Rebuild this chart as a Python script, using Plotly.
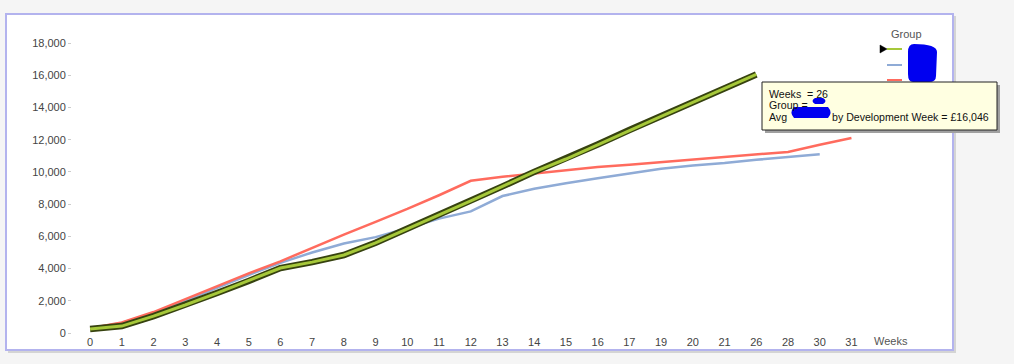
import plotly.graph_objects as go

weeks = ["0", "1", "2", "3", "4", "5", "6", "7", "8", "9", "10", "11", "12", "13",
         "14", "15", "16", "17", "19", "20", "21", "26", "28", "30", "31"]

green_vals = [250, 430, 1050, 1740, 2480, 3230, 4030, 4400, 4840, 5600, 6450, 7350,
              8200, 9100, 10000, 10800, 11700, 12600, 13450, 14320, 15200, 16046]
blue_vals = [300, 620, 1250, 2000, 2800, 3600, 4350, 5000, 5550, 5950, 6500, 7100,
             7550, 8500, 8950, 9300, 9600, 9900, 10200, 10400, 10550, 10750, 10930, 11100]
red_vals = [300, 650, 1300, 2100, 2900, 3700, 4450, 5290, 6100, 6900, 7700, 8550,
            9450, 9700, 9900, 10100, 10300, 10450, 10600, 10750, 10900, 11050, 11240,
            11680, 12100]

y_ticks = [0, 2000, 4000, 6000, 8000, 10000, 12000, 14000, 16000, 18000]

W, H = 1014, 364
L, R, T, B = 72, 880, 30, 334


def px(x):
    return (x - L) / (R - L)


def py(y):
    return (B - y) / (B - T)


FONT = "Liberation Sans, Arial, sans-serif"

fig = go.Figure()
fig.add_trace(go.Scatter(x=weeks[:len(blue_vals)], y=blue_vals, mode="lines",
                         line=dict(color="#8fabd6", width=2.5), name="Group B",
                         showlegend=False))
fig.add_trace(go.Scatter(x=weeks[:len(red_vals)], y=red_vals, mode="lines",
                         line=dict(color="#ff6b5e", width=2.5), name="Group C",
                         showlegend=False))
fig.add_trace(go.Scatter(x=weeks[:len(green_vals)], y=green_vals, mode="lines",
                         line=dict(color="#36420f", width=6.5), name="Group A outline",
                         showlegend=False, hoverinfo="skip"))
fig.add_trace(go.Scatter(x=weeks[:len(green_vals)], y=green_vals, mode="lines",
                         line=dict(color="#a6c83a", width=3), name="Group A",
                         showlegend=False))

BLUE = "#0000f0"
shapes = []
# panel shadow and panel
shapes.append(dict(type="rect", xref="paper", yref="paper", layer="below",
                   x0=px(8), x1=px(956), y0=py(16), y1=py(353),
                   fillcolor="#d4d4d4", line=dict(width=0)))
shapes.append(dict(type="rect", xref="paper", yref="paper", layer="below",
                   x0=px(6), x1=px(953), y0=py(14), y1=py(350),
                   fillcolor="white", line=dict(color="#b3b3ee", width=2)))
# manual legend lines
for yy, col in [(49, "#a6c83a"), (65, "#8fabd6"), (80, "#ff6b5e")]:
    shapes.append(dict(type="line", xref="paper", yref="paper", layer="above",
                       x0=px(887), x1=px(902), y0=py(yy), y1=py(yy),
                       line=dict(color=col, width=2)))
# selection arrow
shapes.append(dict(type="path", xref="paper", yref="paper", layer="above",
                   path="M {} {} L {} {} L {} {} Z".format(px(880), py(45), px(887), py(49), px(880), py(53)),
                   fillcolor="black", line=dict(color="black", width=0.5)))
# redaction blob in legend
bx0, bx1, by0, by1 = 908, 937, 44, 82
shapes.append(dict(type="path", xref="paper", yref="paper", layer="above",
                   path=("M {a} {b} Q {c} {d} {e} {f} L {g} {h} Q {i} {j} {k} {l} "
                         "L {m} {n} Q {o} {p} {q} {r} L {s} {t} Q {u} {v} {a} {b} Z").format(
                       a=px(bx0 + 6), b=py(by0),
                       c=px(bx1), d=py(by0), e=px(bx1), f=py(by0 + 8),
                       g=px(bx1 - 1), h=py(by1 - 6),
                       i=px(bx1 - 1), j=py(by1), k=px(bx1 - 8), l=py(by1),
                       m=px(bx0 + 5), n=py(by1),
                       o=px(bx0), p=py(by1), q=px(bx0), r=py(by1 - 8),
                       s=px(bx0), t=py(by0 + 8),
                       u=px(bx0), v=py(by0)),
                   fillcolor=BLUE, line=dict(width=0)))
# tooltip shadow and box
shapes.append(dict(type="rect", xref="paper", yref="paper", layer="above",
                   x0=px(765), x1=px(1000), y0=py(85), y1=py(133),
                   fillcolor="#a0a0a0", line=dict(width=0)))
shapes.append(dict(type="rect", xref="paper", yref="paper", layer="above",
                   x0=px(762), x1=px(997), y0=py(82), y1=py(130),
                   fillcolor="#ffffe1", line=dict(color="#222", width=1)))
# redaction blobs in tooltip
for x0, x1, y0, y1 in [(811, 827, 98, 104), (790, 832, 107, 118)]:
    shapes.append(dict(type="path", xref="paper", yref="paper", layer="above",
                       path="M {} {} L {} {} Q {} {} {} {} L {} {} Q {} {} {} {} Z".format(
                           px(x0 + 4), py(y0), px(x1 - 4), py(y0),
                           px(x1 + 1), py((y0 + y1) / 2), px(x1 - 4), py(y1),
                           px(x0 + 4), py(y1),
                           px(x0 - 1), py((y0 + y1) / 2), px(x0 + 4), py(y0)),
                       fillcolor=BLUE, line=dict(width=0)))

TT = dict(family=FONT, size=10.6, color="#111")
annotations = [
    dict(text="Group", x=px(906), y=py(34), xref="paper", yref="paper",
         xanchor="center", yanchor="middle",
         showarrow=False, font=dict(family=FONT, size=11, color="#555")),
    dict(text="Weeks", x=px(891), y=py(341), xref="paper", yref="paper",
         xanchor="center", yanchor="middle",
         showarrow=False, font=dict(family=FONT, size=11, color="#555")),
    dict(text="Weeks  = 26", x=px(767), y=py(94), xref="paper", yref="paper",
         xanchor="left", yanchor="middle", showarrow=False, font=TT),
    dict(text="Group =", x=px(767), y=py(105.5), xref="paper", yref="paper",
         xanchor="left", yanchor="middle", showarrow=False, font=TT),
    dict(text="Avg", x=px(767), y=py(117), xref="paper", yref="paper",
         xanchor="left", yanchor="middle", showarrow=False, font=TT),
    dict(text="by Development Week = £16,046", x=px(830), y=py(117), xref="paper",
         yref="paper", xanchor="left", yanchor="middle", showarrow=False, font=TT),
]

fig.update_layout(
    width=W, height=H,
    margin=dict(l=L, r=W - R, t=T, b=H - B),
    paper_bgcolor="#f5f5f5",
    plot_bgcolor="rgba(0,0,0,0)",
    showlegend=False,
    shapes=shapes,
    annotations=annotations,
    font=dict(family=FONT, size=11, color="#444"),
    xaxis=dict(type="category", categoryorder="array", categoryarray=weeks,
               range=[-0.57, 24.9], showgrid=False, zeroline=False, showline=False,
               ticks="", tickfont=dict(size=11, color="#444")),
    yaxis=dict(range=[-62, 18807], tickvals=y_ticks, tickformat=",d",
               showgrid=False, zeroline=False, showline=False,
               ticks="outside", ticklen=3, tickcolor="#cccccc",
               tickfont=dict(size=11, color="#444")),
)

fig.write_html("out.html")
